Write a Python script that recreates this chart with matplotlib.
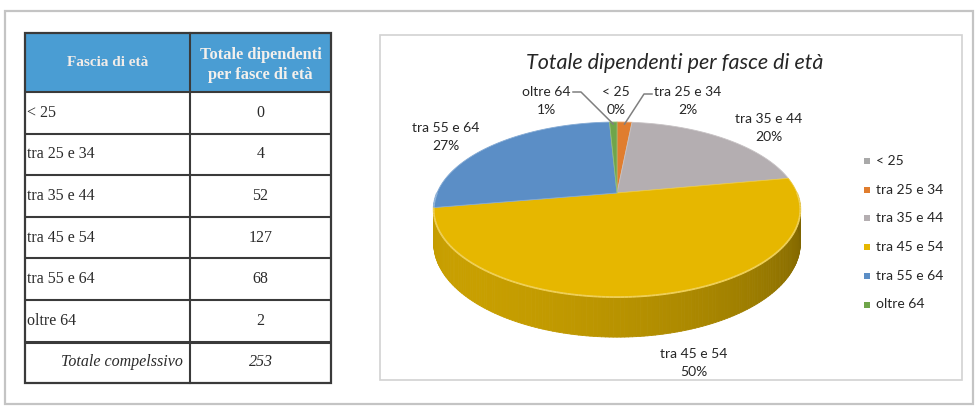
import numpy as np
import matplotlib
matplotlib.use("Agg")
import matplotlib.pyplot as plt
from matplotlib.patches import Rectangle, Polygon
from matplotlib.collections import PolyCollection, LineCollection
import matplotlib.colors as mcolors

# dati
fasce = ["< 25", "tra 25 e 34", "tra 35 e 44", "tra 45 e 54", "tra 55 e 64", "oltre 64"]
dipendenti = [0, 4, 52, 127, 68, 2]
percentuali = ["0%", "2%", "20%", "50%", "27%", "1%"]
colori = ["#a9a9a9", "#e07d2e", "#b4aeb1", "#e6b700", "#5b8ec6", "#6fa54a"]
intestazione = ["Fascia di età", "Totale dipendenti\nper fasce di età"]
etichetta_totale = "Totale compelssivo"

serif = "Liberation Serif"
sans = "Lato"

fig = plt.figure(figsize=(9.78, 4.08), dpi=100)
ax = fig.add_axes([0, 0, 1, 1])
ax.set_xlim(0, 978)
ax.set_ylim(408, 0)
ax.axis("off")

# cornice esterna e riquadro grafico
ax.add_patch(Rectangle((5, 11), 968, 393, fill=False, ec="#c4c4c4", lw=1.6))
ax.add_patch(Rectangle((380, 35), 582, 345, fill=False, ec="#d2d2d2", lw=1.2))

# ---- tabella ----
x0, x1, x2 = 25, 190, 331
y_head0, y_head1 = 33, 92
row_h = 41.6
ax.add_patch(Rectangle((x0, y_head0), x2 - x0, y_head1 - y_head0, fc="#4a9dd3", ec="none"))
ax.text((x0 + x1) / 2, 63, intestazione[0], ha="center", va="center", family=serif,
        fontweight="bold", fontsize=11, color="#f2ece8")
ax.text((x1 + x2) / 2, 65, intestazione[1], ha="center", va="center", family=serif,
        fontweight="bold", fontsize=11.8, color="#f4f0ec", linespacing=1.4)

n = len(fasce)
for i, (f, d) in enumerate(zip(fasce, dipendenti)):
    yc = y_head1 + (i + 0.5) * row_h
    ax.text(x0 + 2, yc, f, ha="left", va="center", family=serif, fontsize=11.5, color="#2b2b2b")
    ax.text((x1 + x2) / 2, yc, str(d), ha="center", va="center", family=serif, fontsize=11.5, color="#2b2b2b")
yc = y_head1 + (n + 0.5) * row_h
ax.text(x1 - 7, yc, etichetta_totale, ha="right", va="center", family=serif, fontsize=11.5,
        fontstyle="italic", color="#2b2b2b")
ax.text((x1 + x2) / 2, yc, str(sum(dipendenti)), ha="center", va="center", family=serif,
        fontsize=11.5, fontstyle="italic", color="#2b2b2b")

y_bottom = y_head1 + (n + 1) * row_h
for i in range(n + 1):
    yl = y_head1 + i * row_h
    ax.plot([x0, x2], [yl, yl], color="#3a3a3a", lw=2.2 if i == n else 1.5, solid_capstyle="butt")
ax.add_patch(Rectangle((x0, y_head0), x2 - x0, y_bottom - y_head0, fill=False, ec="#3a3a3a", lw=1.6))
ax.plot([x1, x1], [y_head0, y_bottom], color="#3a3a3a", lw=1.5)

# ---- torta 3D ----
cx, cy = 617, 193
A, B, k, D = 180, 84.4, 0.189, 32.5


def proj(theta, drop=0.0):
    t = np.radians(theta)
    u, v = np.cos(t), np.sin(t)
    s = 1.0 / (1.0 + k * v)
    return cx + A * u * s, cy - B * v * s + D * drop * s


def shade(c, f):
    r, g, b = mcolors.to_rgb(c)
    return (r * f, g * f, b * f)


def lighten(c, f):
    r, g, b = mcolors.to_rgb(c)
    return (r + (1 - r) * f, g + (1 - g) * f, b + (1 - b) * f)


total = sum(dipendenti)
bounds = []  # (theta1, theta2) in gradi, senso orario da ore 12
cum = 0
for v in dipendenti:
    t1 = 90 - cum / total * 360
    cum += v
    t2 = 90 - cum / total * 360
    bounds.append((t1, t2))


def slice_of(theta):
    d = (90 - theta) % 360
    c = 0
    for i, v in enumerate(dipendenti):
        c += v / total * 360
        if d < c and v > 0:
            return i
    return len(dipendenti) - 1


# lato visibile (parte anteriore)
brk = set(np.arange(180, 360.01, 1.0))
for t1, t2 in bounds:
    for t in (t1, t2):
        tt = t % 360
        if 180 < tt < 360:
            brk.add(tt)
brk = sorted(brk)
quads, qcols, rim, rimcols = [], [], [], []
for a, b in zip(brk[:-1], brk[1:]):
    m = (a + b) / 2
    i = slice_of(m)
    f = 0.68 + 0.19 * np.cos(np.radians(m - 220))
    pa, pb = proj(a), proj(b)
    qa, qb = proj(a, 1), proj(b, 1)
    quads.append([pa, pb, qb, qa])
    qcols.append(shade(colori[i], f))
    rim.append([pa, pb])
    rimcols.append(lighten(colori[i], 0.35))
ax.add_collection(PolyCollection(quads, facecolors=qcols, edgecolors=qcols, lw=0.6))

# faccia superiore
for (t1, t2), c, v in zip(bounds, colori, dipendenti):
    if v == 0:
        continue
    ts = np.linspace(t1, t2, max(3, int(abs(t1 - t2)) + 2))
    xs, ys = proj(ts)
    pts = np.column_stack([np.r_[cx, xs], np.r_[cy, ys]])
    ax.add_patch(Polygon(pts, closed=True, fc=c, ec=lighten(c, 0.25), lw=0.6))
ax.add_collection(LineCollection(rim, colors=rimcols, lw=1.3))

# etichette dati
lab_pos = [(616, 101), (688, 101), (769, 128), (694, 363), (446, 137), (546, 101)]
for f, p, (x, y) in zip(fasce, percentuali, lab_pos):
    ax.text(x, y, f + "\n" + p, ha="center", va="center", family=sans, fontsize=10,
            color="#262626", linespacing=1.6)

# linee guida per le fette piccole
mid_oltre = np.mean(bounds[5])
mid_25 = np.mean(bounds[1])
ex, ey = proj(mid_oltre)
ax.plot([573, 581, ex], [92, 92, ey + 2], color="#7f7f7f", lw=1.1)
ex, ey = proj(mid_25)
ax.plot([652, 644, ex], [94, 94, ey + 2], color="#7f7f7f", lw=1.1)

# titolo
ax.text(675, 63, "Totale dipendenti per fasce di età", ha="center", va="center",
        family=sans, fontstyle="italic", fontsize=15.5, color="#262626")

# legenda
for i, (f, c) in enumerate(zip(fasce, colori)):
    y = 161 + i * 28.7
    ax.add_patch(Rectangle((864, y - 3), 6, 6, fc=c, ec="none"))
    ax.text(876, y, f, ha="left", va="center", family=sans, fontsize=10, color="#262626")

fig.savefig("out.png", dpi=100)
